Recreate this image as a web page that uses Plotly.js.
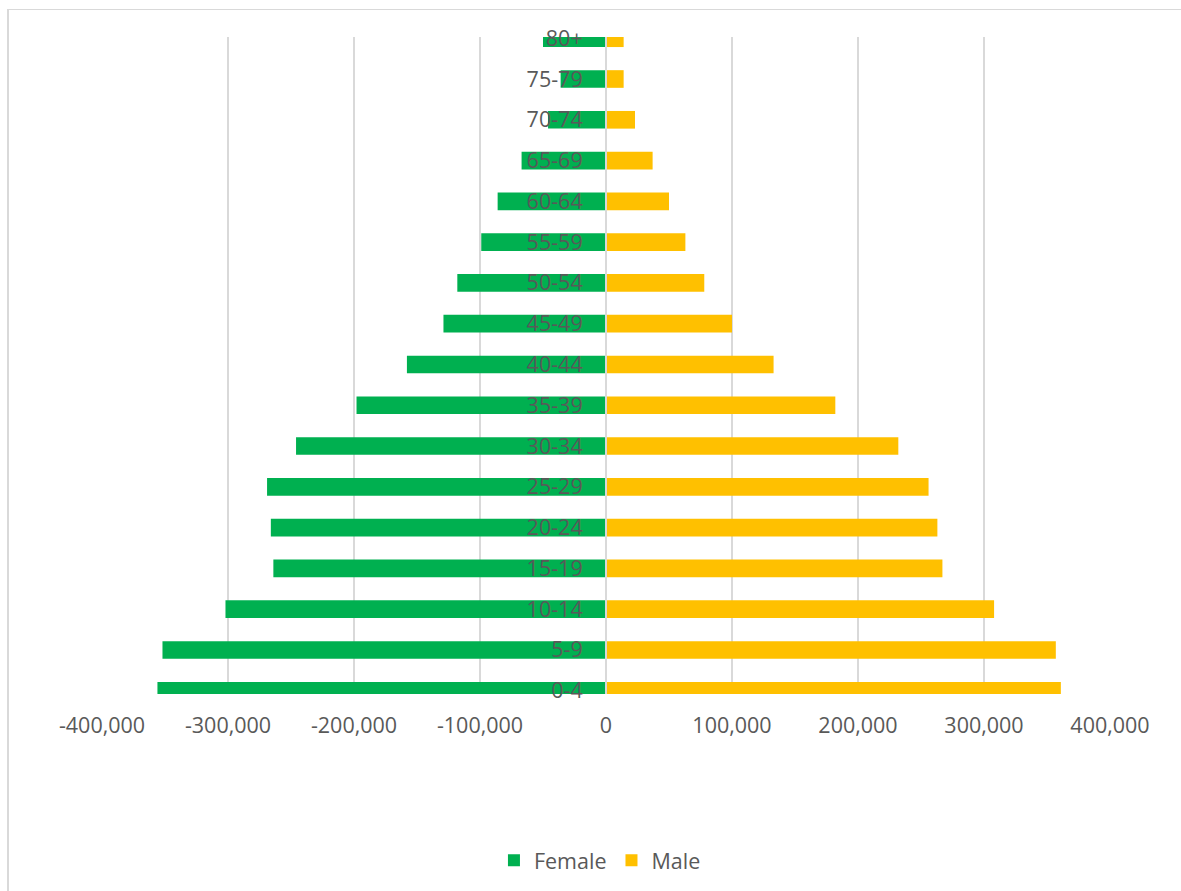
<!DOCTYPE html>
<html>
<head>
<meta charset="utf-8">
<script src="https://cdn.plot.ly/plotly-3.0.1.min.js"></script>
<style>
  html, body { margin: 0; padding: 0; background: #ffffff; }
  #chart { position: absolute; left: 0; top: 0; width: 1181px; height: 891px; }
  #frame { position: absolute; left: 7px; top: 9px; width: 1200px; height: 900px;
           border-left: 2px solid #d9d9d9; border-top: 1px solid #d9d9d9; pointer-events: none; }
</style>
</head>
<body>
<div id="chart"></div>
<div id="frame"></div>
<script>
const ageGroups = ["0-4","5-9","10-14","15-19","20-24","25-29","30-34","35-39","40-44","45-49","50-54","55-59","60-64","65-69","70-74","75-79","80+"];
const femaleValues = [-356000,-352000,-302000,-264000,-266000,-269000,-246000,-198000,-158000,-129000,-118000,-99000,-86000,-67000,-46000,-36000,-50000];
const maleValues = [361000,357000,308000,267000,263000,256000,232000,182000,133000,100000,78000,63000,50000,37000,23000,14000,14000];
const xTickValues = [-400000,-300000,-200000,-100000,0,100000,200000,300000,400000];
const xTickLabels = ["-400,000","-300,000","-200,000","-100,000","0","100,000","200,000","300,000","400,000"];

const textColor = "#595959";
const fontFamily = "'Open Sans', 'Noto Sans', sans-serif";

const traces = [
  { type: "bar", orientation: "h", name: "Female", y: ageGroups, x: femaleValues,
    marker: { color: "#00B050" }, hoverinfo: "y+x" },
  { type: "bar", orientation: "h", name: "Male", y: ageGroups, x: maleValues,
    marker: { color: "#FFC000" }, hoverinfo: "y+x" }
];

const layout = {
  width: 1181, height: 891,
  margin: { l: 102, r: 71, t: 37, b: 196, pad: 0 },
  paper_bgcolor: "rgba(0,0,0,0)", plot_bgcolor: "#ffffff",
  barmode: "relative", bargap: 0.567,
  font: { family: fontFamily, color: textColor, size: 21.5 },
  xaxis: {
    range: [-400000, 400000], tickvals: xTickValues, ticktext: xTickLabels,
    showgrid: true, gridcolor: "#d9d9d9", gridwidth: 1.5, zeroline: false,
    showline: false, ticks: "", tickfont: { size: 21.5, color: textColor },
    ticklabelstandoff: 16, fixedrange: true
  },
  yaxis: {
    type: "category", range: [-0.08, 16.03], anchor: "free", position: 0.5,
    showline: true, linecolor: "#d9d9d9", linewidth: 2, layer: "above traces",
    showgrid: false, zeroline: false, ticks: "", tickfont: { size: 21.5, color: textColor },
    ticklabelstandoff: 18, fixedrange: true
  },
  showlegend: true,
  legend: { orientation: "h", x: 0.494, xanchor: "center", y: -0.251, yanchor: "middle",
            font: { size: 21.5, color: textColor }, itemwidth: 30, traceorder: "normal" }
};

Plotly.newPlot("chart", traces, layout, { displayModeBar: false, staticPlot: true });
</script>
</body>
</html>
